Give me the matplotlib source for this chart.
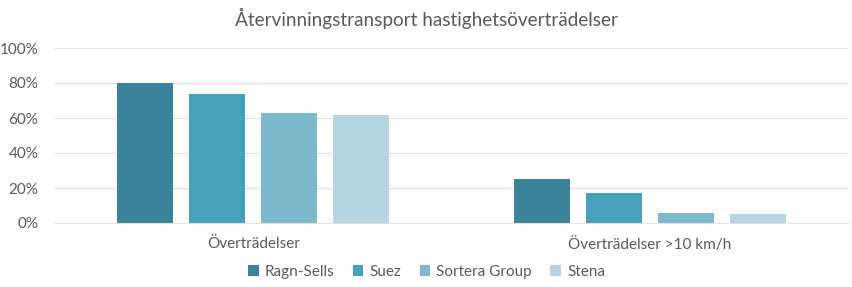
import matplotlib
matplotlib.use("Agg")
import matplotlib.pyplot as plt
import numpy as np
from matplotlib.ticker import FuncFormatter

categories = ["Överträdelser", "Överträdelser >10 km/h"]
series = ["Ragn-Sells", "Suez", "Sortera Group", "Stena"]
values = {
    "Ragn-Sells": [80, 25],
    "Suez": [74, 17],
    "Sortera Group": [63, 6],
    "Stena": [62, 5],
}
colors = ["#3A8399", "#48A1BA", "#7EB8CC", "#B5D5E0"]

plt.rcParams['font.family'] = ['Lato', 'DejaVu Sans']

W, H = 853, 287
fig = plt.figure(figsize=(W / 100, H / 100), dpi=100)
ax = fig.add_axes([55 / W, (H - 223) / H, (848 - 55) / W, (223 - 48) / H])

x = np.arange(len(categories))
cat_px = (848 - 55) / 2
bw = 56 / cat_px
step = 72 / cat_px
for i, s in enumerate(series):
    off = (i - 1.5) * step
    ax.bar(x + off, values[s], width=bw, color=colors[i], label=s, zorder=3)

ax.set_xlim(-0.5, 1.5)
ax.set_ylim(0, 100)
ax.set_yticks(range(0, 101, 20))
ax.yaxis.set_major_formatter(FuncFormatter(lambda v, p: f"{int(v)}%"))
ax.set_xticks(x)
ax.set_xticklabels(categories)
ax.grid(axis='y', color='#E3E3E3', linewidth=0.9, zorder=0)
for sp in ['top', 'right', 'left']:
    ax.spines[sp].set_visible(False)
ax.spines['bottom'].set_color('#E3E3E3')
ax.tick_params(axis='both', length=0, colors='#595959', labelsize=11)
ax.tick_params(axis='x', pad=10)
ax.tick_params(axis='y', pad=12)

fig.text(0.5, 1 - 18 / H, "Återvinningstransport hastighetsöverträdelser",
         ha='center', va='center', fontsize=13.6, color='#595959')

fig.legend(loc='center', bbox_to_anchor=(0.5, 1 - 272 / H), ncol=4, frameon=False,
           fontsize=11, labelcolor='#595959', handlelength=0.7, handleheight=0.7,
           handletextpad=0.4, columnspacing=1.2)

fig.savefig("out.png", dpi=100)
